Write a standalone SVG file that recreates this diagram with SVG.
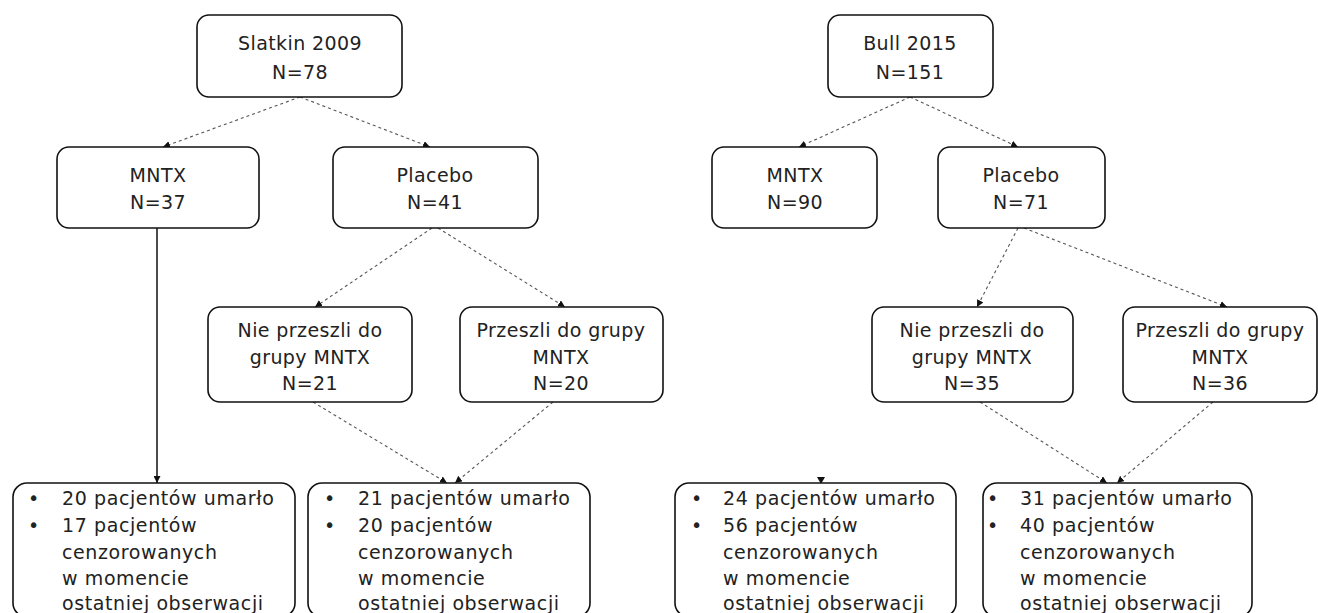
<svg xmlns="http://www.w3.org/2000/svg" width="1318" height="613" viewBox="0 0 1318 613">
<style>
.box{fill:#fff;stroke:#111;stroke-width:1.6}
.t{font-family:"DejaVu Sans",Verdana,sans-serif;font-size:19px;fill:#222;letter-spacing:0.6px}
.c{text-anchor:middle;letter-spacing:0.4px}
.dash{fill:none;stroke:#555;stroke-width:1.1;stroke-dasharray:3 3;marker-end:url(#ah)}
.solid{fill:none;stroke:#111;stroke-width:1.5;marker-end:url(#ah)}
</style>
<defs>
<marker id="ah" viewBox="0 0 10 10" refX="10" refY="5" markerWidth="7" markerHeight="7" markerUnits="userSpaceOnUse" orient="auto">
<path d="M0,0 L10,5 L0,10 z" fill="#111"/>
</marker>
</defs>
<rect width="1318" height="613" fill="#fff"/>
<g id="connectors">
<path class="dash" d="M300,97 L163,147"/>
<path class="dash" d="M300,97 L430,147"/>
<path class="dash" d="M910,97 L799,147"/>
<path class="dash" d="M910,97 L1018,147"/>
<path class="dash" d="M432,228 L315,307"/>
<path class="dash" d="M438,228 L565,307"/>
<path class="dash" d="M1018,228 L977,307"/>
<path class="dash" d="M1024,228 L1227,307"/>
<path class="solid" d="M157,228 L157,483"/>
<path class="dash" d="M313,402 L447,483"/>
<path class="dash" d="M553,402 L455,483"/>
<path class="dash" d="M980,402 L1107,483"/>
<path class="dash" d="M1213,402 L1117,483"/>
<polygon points="817,477 825,477 821,484" fill="#111"/>
</g>
<g id="slatkin">
<rect class="box" x="197" y="15" width="205" height="82" rx="12"/>
<text class="t c" x="300" y="50">Slatkin 2009</text>
<text class="t c" x="300" y="79">N=78</text>
</g>
<g id="bull">
<rect class="box" x="828" y="15" width="165" height="82" rx="12"/>
<text class="t c" x="910" y="50">Bull 2015</text>
<text class="t c" x="910" y="79">N=151</text>
</g>
<g id="mntx1">
<rect class="box" x="57" y="147" width="202" height="81" rx="12"/>
<text class="t c" x="158" y="182">MNTX</text>
<text class="t c" x="158" y="209">N=37</text>
</g>
<g id="placebo1">
<rect class="box" x="333" y="147" width="205" height="81" rx="12"/>
<text class="t c" x="435" y="182">Placebo</text>
<text class="t c" x="435" y="209">N=41</text>
</g>
<g id="mntx2">
<rect class="box" x="712" y="147" width="165" height="81" rx="12"/>
<text class="t c" x="795" y="182">MNTX</text>
<text class="t c" x="795" y="209">N=90</text>
</g>
<g id="placebo2">
<rect class="box" x="938" y="147" width="167" height="81" rx="12"/>
<text class="t c" x="1021" y="182">Placebo</text>
<text class="t c" x="1021" y="209">N=71</text>
</g>
<g id="nie1">
<rect class="box" x="208" y="307" width="204" height="95" rx="12"/>
<text class="t c" x="310" y="337">Nie przeszli do</text>
<text class="t c" x="310" y="364">grupy MNTX</text>
<text class="t c" x="310" y="390">N=21</text>
</g>
<g id="przeszli1">
<rect class="box" x="460" y="307" width="203" height="95" rx="12"/>
<text class="t c" x="561" y="337">Przeszli do grupy</text>
<text class="t c" x="561" y="364">MNTX</text>
<text class="t c" x="561" y="390">N=20</text>
</g>
<g id="nie2">
<rect class="box" x="872" y="307" width="201" height="95" rx="12"/>
<text class="t c" x="972" y="337">Nie przeszli do</text>
<text class="t c" x="972" y="364">grupy MNTX</text>
<text class="t c" x="972" y="390">N=35</text>
</g>
<g id="przeszli2">
<rect class="box" x="1123" y="307" width="194" height="95" rx="12"/>
<text class="t c" x="1220" y="337">Przeszli do grupy</text>
<text class="t c" x="1220" y="364">MNTX</text>
<text class="t c" x="1220" y="390">N=36</text>
</g>
<g id="wynik1">
<rect class="box" x="13" y="483" width="282" height="134" rx="14"/>
<text class="t" x="28" y="505">•</text>
<text class="t" x="28" y="532">•</text>
<text class="t" x="62" y="505">20 pacjentów umarło</text>
<text class="t" x="62" y="532">17 pacjentów</text>
<text class="t" x="62" y="559">cenzorowanych</text>
<text class="t" x="62" y="585">w momencie</text>
<text class="t" x="62" y="610">ostatniej obserwacji</text>
</g>
<g id="wynik2">
<rect class="box" x="308" y="483" width="282" height="134" rx="14"/>
<text class="t" x="324" y="505">•</text>
<text class="t" x="324" y="532">•</text>
<text class="t" x="358" y="505">21 pacjentów umarło</text>
<text class="t" x="358" y="532">20 pacjentów</text>
<text class="t" x="358" y="559">cenzorowanych</text>
<text class="t" x="358" y="585">w momencie</text>
<text class="t" x="358" y="610">ostatniej obserwacji</text>
</g>
<g id="wynik3">
<rect class="box" x="675" y="483" width="281" height="134" rx="14"/>
<text class="t" x="691" y="505">•</text>
<text class="t" x="691" y="532">•</text>
<text class="t" x="723" y="505">24 pacjentów umarło</text>
<text class="t" x="723" y="532">56 pacjentów</text>
<text class="t" x="723" y="559">cenzorowanych</text>
<text class="t" x="723" y="585">w momencie</text>
<text class="t" x="723" y="610">ostatniej obserwacji</text>
</g>
<g id="wynik4">
<rect class="box" x="983" y="483" width="269" height="134" rx="14"/>
<text class="t" x="987" y="505">•</text>
<text class="t" x="987" y="532">•</text>
<text class="t" x="1020" y="505">31 pacjentów umarło</text>
<text class="t" x="1020" y="532">40 pacjentów</text>
<text class="t" x="1020" y="559">cenzorowanych</text>
<text class="t" x="1020" y="585">w momencie</text>
<text class="t" x="1020" y="610">ostatniej obserwacji</text>
</g>
</svg>
